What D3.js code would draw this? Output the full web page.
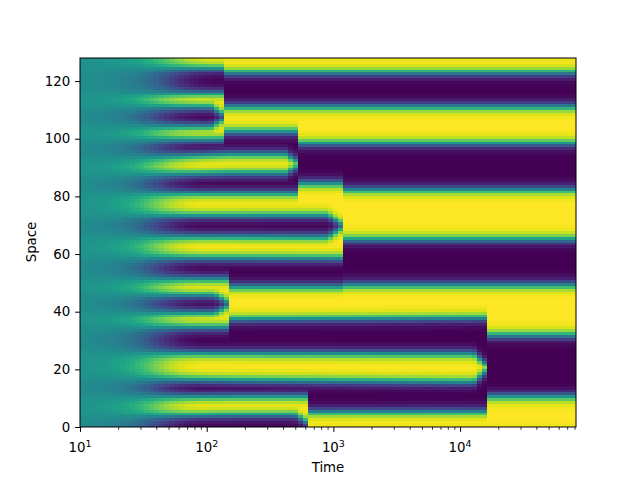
<!DOCTYPE html>
<html>
<head>
<meta charset="utf-8">
<script src="https://cdn.jsdelivr.net/npm/d3@7"></script>
<style>
  body { margin: 0; background: #fff; }
  text { font-family: "DejaVu Sans", sans-serif; }
</style>
</head>
<body>
<svg id="chart" width="640" height="480"></svg>
<script>
// time axis range and grid size of the field
var timeRange = [10, 82200]
var nTime = 100
var nSpace = 128

var timeTicks = [10, 100, 1000, 10000]
var spaceTicks = [0, 20, 40, 60, 80, 100, 120]

// early growth of the stripe contrast
var growthTime = [10, 15, 20, 25, 30, 35, 40, 50, 60, 70, 90]
var growthAmp = [0.04, 0.09, 0.16, 0.26, 0.38, 0.5, 0.62, 0.8, 0.9, 0.96, 1]

// interfaces between domains: [time, space] keyframes
var interfaces = [
    [[10, -3]],                                                                  // 0 below bottom
    [[10, 3.5], [150, 4.2], [500, 4.2], [650, 1]],                               // 1
    [[10, 10.3], [150, 10.5], [649, 10.5], [650, 5.2], [16599, 5.3], [16600, 10.5]], // 2
    [[10, 17], [150, 16.3], [12800, 15.7], [16600, 20.1]],                       // 3
    [[10, 25.8], [150, 25.5], [12800, 25.4], [16600, 20.9]],                     // 4
    [[10, 34.5], [149.9, 34.6], [150, 37.4], [16599, 37.8], [16600, 31.9]],      // 5
    [[10, 39.7], [115, 39.7], [150, 42.4]],                                      // 6
    [[10, 45.7], [115, 45.7], [150, 43]],                                        // 7
    [[10, 51.3], [149.9, 51.3], [150, 48.7], [1169, 48.7], [1170, 49.3]],        // 8
    [[10, 58.8], [1169, 58.6], [1170, 65.2]],                                    // 9
    [[10, 66.2], [900, 66], [1170, 69.3]],                                       // 10
    [[10, 73.3], [900, 73.5], [1170, 70.1]],                                     // 11
    [[10, 81], [544, 81], [545, 84.5], [1169, 84.5], [1170, 82.3]],              // 12
    [[10, 87], [150, 88], [420, 88], [545, 90.9]],                               // 13
    [[10, 92.8], [150, 94.6], [420, 94.6], [545, 91.7]],                         // 14
    [[10, 99.6], [139.9, 99.8], [140, 102.5], [544, 102.5], [545, 98.4]],        // 15
    [[10, 104.2], [108, 104.2], [140, 107.2]],                                   // 16
    [[10, 111], [108, 111], [140, 108]],                                         // 17
    [[10, 115.7], [139.9, 115.7], [140, 111.1]],                                 // 18
    [[10, 124.5], [139.9, 124.5], [140, 122.9]],                                 // 19
    [[10, 131]]                                                                  // 20 above top
]

// domains: [phase, start, end, lower interface, upper interface, growth lag]
var bands = [
    [-1, 10, 650, 0, 1, 1],
    [1, 10, 650, 1, 2, 1],
    [1, 650, 1e6, 0, 2, 1],
    [-1, 10, 16600, 2, 3, 1],
    [1, 10, 16600, 3, 4, 1],
    [-1, 10, 16600, 4, 5, 1],
    [-1, 16600, 1e6, 2, 5, 1],
    [1, 10, 150, 5, 6, 1],
    [-1, 10, 150, 6, 7, 1],
    [1, 10, 150, 7, 8, 1],
    [1, 150, 1e6, 5, 8, 1],
    [-1, 10, 1e6, 8, 9, 1],
    [1, 10, 1170, 9, 10, 1],
    [-1, 10, 1170, 10, 11, 1],
    [1, 10, 1170, 11, 12, 1],
    [1, 1170, 1e6, 9, 12, 1],
    [-1, 10, 545, 12, 13, 1],
    [1, 10, 545, 13, 14, 1],
    [-1, 10, 545, 14, 15, 1],
    [-1, 545, 1e6, 12, 15, 1],
    [1, 10, 140, 15, 16, 1],
    [-1, 10, 140, 16, 17, 1],
    [1, 10, 140, 17, 18, 1],
    [1, 140, 1e6, 15, 18, 1],
    [-1, 10, 1e6, 18, 19, 1.3],
    [1, 10, 1e6, 19, 20, 1.3]
]

var svg = d3.select('#chart')

var x = d3.scaleLog().domain(timeRange).range([80, 576])
var y = d3.scaleLinear().domain([0, nSpace]).range([427, 58])
var color = d3.scaleSequential(d3.interpolateViridis).domain([-1, 1])

var growth = d3.scaleLog().domain(growthTime).range(growthAmp).clamp(true)
var wallWidth = d3.scaleLog().domain([10, 30, 80]).range([2.8, 2.2, 1.9]).clamp(true)

var edgeScales = interfaces.map(function(keys){
    if (keys.length == 1) return function(){ return keys[0][1] }
    return d3.scaleLog()
        .domain(keys.map(function(k){ return k[0] }))
        .range(keys.map(function(k){ return k[1] }))
        .clamp(true)
})

var tEdges = d3.range(nTime + 1).map(function(i){
    return timeRange[0] * Math.pow(timeRange[1] / timeRange[0], i / nTime)
})

var cells = []
for (var i = 0; i < nTime; i++) {
    var tc = Math.sqrt(tEdges[i] * tEdges[i + 1])
    var alive = bands.filter(function(b){ return b[1] <= tc && tc < b[2] }).map(function(b){
        return { phase: b[0], lo: edgeScales[b[3]](tc), hi: edgeScales[b[4]](tc), lag: b[5] }
    })
    for (var j = 0; j < nSpace; j++) {
        var s = j + 0.5
        var v = 0
        alive.forEach(function(b){
            if (s >= b.lo && s < b.hi) {
                var d = Math.min(s - b.lo, b.hi - s)
                v = b.phase * growth(tc / b.lag) * Math.tanh(d / wallWidth(tc))
            }
        })
        cells.push({ t0: tEdges[i], t1: tEdges[i + 1], s: j, v: v })
    }
}

svg.append('g')
    .attr('shape-rendering', 'crispEdges')
    .selectAll('rect')
    .data(cells)
    .join('rect')
    .attr('x', function(d){ return x(d.t0) })
    .attr('width', function(d){ return x(d.t1) - x(d.t0) })
    .attr('y', function(d){ return y(d.s + 1) })
    .attr('height', function(d){ return y(d.s) - y(d.s + 1) })
    .attr('fill', function(d){ return color(d.v) })

// minor ticks on the log axis
var minorTicks = []
timeTicks.forEach(function(t){
    for (var k = 2; k < 10; k++) if (t * k < timeRange[1]) minorTicks.push(t * k)
})

var xMinor = svg.append('g').attr('transform', 'translate(0,427)')
    .call(d3.axisBottom(x).tickValues(minorTicks).tickSize(2.8).tickFormat(''))
xMinor.select('.domain').remove()
xMinor.selectAll('line').attr('stroke-width', 0.8)

var xMajor = svg.append('g').attr('transform', 'translate(0,427)')
    .call(d3.axisBottom(x).tickValues(timeTicks).tickSize(4.9).tickFormat(''))
xMajor.select('.domain').remove()
xMajor.selectAll('line').attr('stroke-width', 1)

var xLabels = svg.append('g').selectAll('text')
    .data(timeTicks)
    .join('text')
    .attr('x', function(d){ return x(d) })
    .attr('y', 452)
    .attr('text-anchor', 'middle')
    .attr('font-size', 13.33)
    .attr('fill', '#000')
xLabels.append('tspan').text('10')
xLabels.append('tspan')
    .attr('font-size', 9.5)
    .attr('dy', -5.5)
    .text(function(d){ return Math.round(Math.log10(d)) })

var yAxis = svg.append('g').attr('transform', 'translate(80,0)')
    .call(d3.axisLeft(y).tickValues(spaceTicks).tickSize(4.9).tickPadding(4.9))
yAxis.select('.domain').remove()
yAxis.selectAll('line').attr('stroke-width', 1)
yAxis.selectAll('text')
    .attr('font-size', 13.33)
    .attr('font-family', '"DejaVu Sans", sans-serif')
    .attr('fill', '#000')

svg.append('rect')
    .attr('x', 80).attr('y', 58).attr('width', 496).attr('height', 369)
    .attr('fill', 'none').attr('stroke', '#000').attr('stroke-width', 1)

svg.append('text')
    .attr('x', 328).attr('y', 472)
    .attr('text-anchor', 'middle')
    .attr('font-size', 13.33)
    .text('Time')

svg.append('text')
    .attr('transform', 'translate(36,242) rotate(-90)')
    .attr('text-anchor', 'middle')
    .attr('font-size', 13.33)
    .text('Space')
</script>
</body>
</html>
